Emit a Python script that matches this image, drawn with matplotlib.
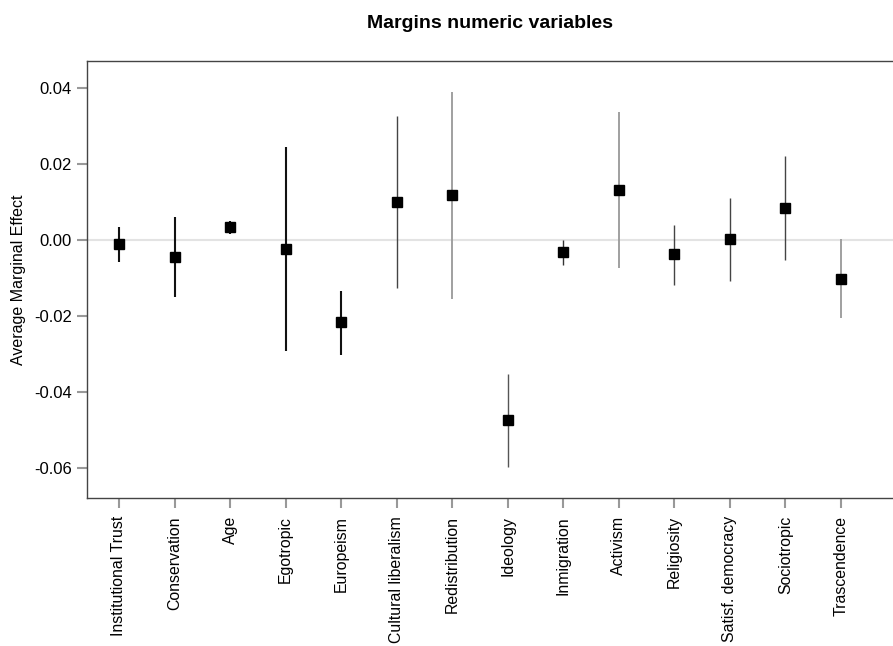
import matplotlib
matplotlib.use("Agg")
import matplotlib.pyplot as plt
from matplotlib.ticker import FixedLocator

plt.rcParams['font.family'] = ['Liberation Sans', 'DejaVu Sans']

categories = ["Institutional Trust", "Conservation", "Age", "Egotropic", "Europeism",
              "Cultural liberalism", "Redistribution", "Ideology", "Inmigration", "Activism",
              "Religiosity", "Satisf. democracy", "Sociotropic", "Trascendence"]
estimates = [-0.0011, -0.0044, 0.0035, -0.0024, -0.0217, 0.0101, 0.0118, -0.0475,
             -0.0032, 0.0132, -0.0037, 0.0002, 0.0084, -0.0102]
ci_low = [-0.0059, -0.0149, 0.0016, -0.0292, -0.0303, -0.0127, -0.0155, -0.0598,
          -0.0067, -0.0075, -0.0118, -0.0109, -0.0052, -0.0205]
ci_high = [0.0034, 0.0061, 0.0049, 0.0244, -0.0135, 0.0326, 0.0389, -0.0353,
           0.0000, 0.0336, 0.0040, 0.0110, 0.0220, 0.0002]
yticks = [-0.06, -0.04, -0.02, 0.00, 0.02, 0.04]
ytick_labels = ["-0.06", "-0.04", "-0.02", "0.00", "0.02", "0.04"]

line_colors = ["#111111"] * 5 + ["#444444", "#999999", "#555555", "#333333", "#999999",
                                  "#444444", "#444444", "#444444", "#999999"]
line_widths = [1.5] * 5 + [1.0, 1.3, 1.0, 1.0, 1.3, 1.0, 1.0, 1.0, 1.3]

fig = plt.figure(figsize=(8.93, 6.46), dpi=100)
ax = fig.add_axes([87/893, 1 - 498/646, 1 - 87/893, (498 - 61)/646])

x = list(range(1, len(categories) + 1))
ax.axhline(0, color="#e3e3e3", lw=1.5, zorder=1)
for xi, lo, hi, c, w in zip(x, ci_low, ci_high, line_colors, line_widths):
    ax.vlines(xi, lo, hi, color=c, lw=w, zorder=2)
ax.plot(x, estimates, linestyle="none", marker="s", markersize=7, color="black",
        zorder=3)

ax.set_xlim(0.424, 14.94)
ax.set_ylim(-0.0679, 0.0471)
ax.yaxis.set_major_locator(FixedLocator(yticks))
ax.set_yticklabels(ytick_labels)
ax.set_xticks(x)
ax.set_xticklabels(categories, rotation=90)

for s in ["top", "bottom", "left"]:
    ax.spines[s].set_color("#444444")
    ax.spines[s].set_linewidth(1.0)
ax.spines["right"].set_visible(False)

ax.tick_params(axis="both", direction="out", length=7, width=1.5, color="#999999",
               labelcolor="black")
ax.tick_params(axis="y", pad=4, labelsize=12)
ax.tick_params(axis="x", pad=6, labelsize=11.4)

ax.set_ylabel("Average Marginal Effect", fontsize=11.5, labelpad=6)
ax.set_title("Margins numeric variables", fontsize=14, fontweight="bold", pad=24)

fig.savefig("out.png", dpi=100)
